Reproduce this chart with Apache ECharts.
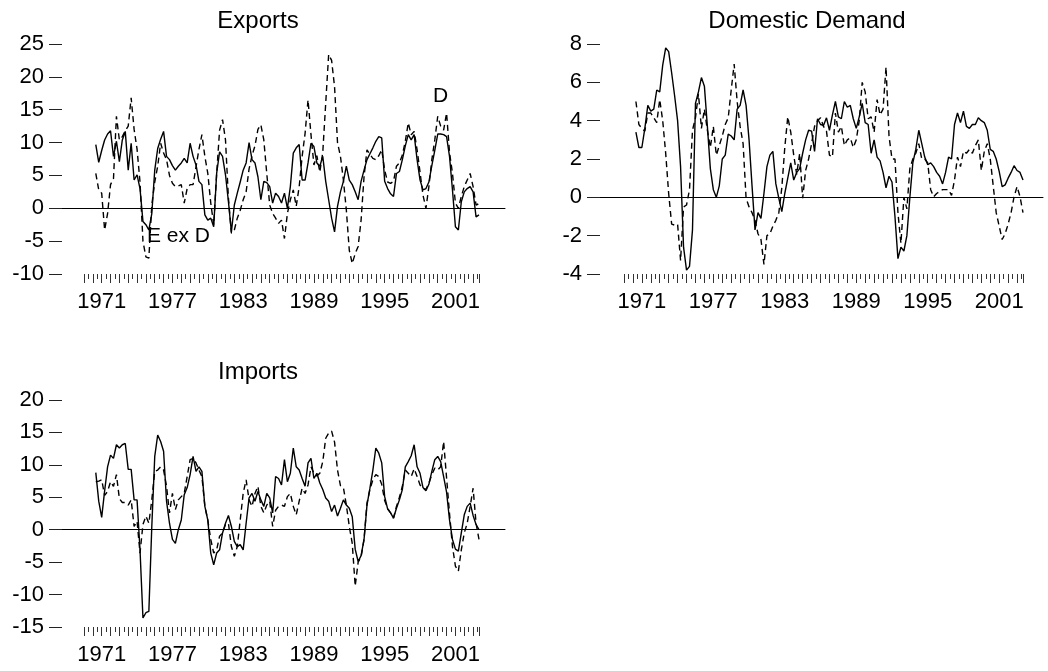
<!DOCTYPE html>
<html>
<head>
<meta charset="utf-8">
<title>Exports, Domestic Demand, Imports</title>
<script src="https://cdn.jsdelivr.net/npm/echarts@6.0.0/dist/echarts.min.js"></script>
<style>
  html, body { margin: 0; padding: 0; background: #fff; }
  #chart { width: 1048px; height: 671px; }
</style>
</head>
<body>
<div id="chart"></div>
<script>
// quarterly sample 1969Q3 .. 2003Q1, first 4 quarters have no growth rate
const FIRST_YEAR = 1969
const FIRST_QUARTER = 3
const N_OBS = 135
const LEADING_NA = 4

const yearLabels = ['1971', '1977', '1983', '1989', '1995', '2001']

const exportsTicks = [-10, -5, 0, 5, 10, 15, 20, 25]
const demandTicks = [-4, -2, 0, 2, 4, 6, 8]
const importsTicks = [-15, -10, -5, 0, 5, 10, 15, 20]

// Exports, solid line
const exportsSolid = [
  9.7, 7.0, 8.8, 10.4, 11.3, 11.8, 7.9, 10.2, 7.1, 10.4,
  11.7, 5.8, 9.9, 4.3, 5.1, 3.0, -2.0, -2.5, -3.3, -0.8,
  5.8, 9.1, 10.5, 11.7, 7.9, 7.4, 6.5, 5.8, 6.4, 6.9,
  7.6, 6.9, 9.9, 7.9, 6.6, 4.1, 3.6, -1.0, -1.8, -1.5,
  -2.8, 5.3, 8.6, 7.9, 5.1, 1.0, -3.6, 0.5, 2.3, 4.0,
  5.8, 6.9, 10.0, 7.4, 6.9, 4.8, 1.3, 4.1, 3.9, 3.3,
  0.8, 2.3, 1.8, 0.8, 2.3, 0.0, 3.3, 8.4, 9.2, 9.7,
  4.3, 4.3, 6.9, 9.9, 9.4, 6.9, 6.4, 7.9, 4.1, 1.3,
  -1.5, -3.6, 0.3, 2.5, 4.1, 6.4, 4.3, 3.6, 2.5, 1.3,
  4.1, 5.8, 7.4, 8.3, 9.2, 10.2, 10.9, 10.7, 4.1, 3.0,
  2.2, 1.8, 5.3, 5.6, 7.4, 9.5, 11.2, 10.4, 11.2, 7.4,
  4.3, 2.8, 3.0, 4.0, 6.5, 8.8, 11.3, 11.3, 11.2, 10.9,
  7.9, 2.8, -2.8, -3.3, 1.0, 2.5, 3.0, 3.3, 2.5, -1.3,
  -1.0
]

// Exports, dashed line
const exportsDashed = [
  5.3, 2.8, 2.3, -3.3, -0.8, 3.6, 4.5, 14.0, 10.4, 10.9,
  11.8, 12.5, 16.8, 12.0, 9.0, 4.0, -5.0, -7.4, -7.6, 0.5,
  4.0, 6.4, 9.9, 8.4, 7.4, 5.0, 3.8, 3.3, 3.4, 3.6,
  0.8, 3.0, 3.6, 3.6, 6.3, 9.0, 11.2, 7.9, 5.3, 0.8,
  -2.5, 5.3, 11.9, 13.5, 10.4, 1.5, -3.8, -3.3, -1.5, -0.3,
  1.3, 2.5, 6.0, 8.0, 9.5, 12.0, 12.7, 10.4, 5.3, 0.5,
  -0.8, -1.5, -2.3, -1.8, -4.6, -0.8, 1.3, 2.8, 0.3, 3.3,
  7.9, 11.4, 16.5, 11.2, 6.6, 8.0, 5.5, 8.5, 16.0, 23.4,
  22.5, 18.5, 10.0, 7.9, 4.3, -0.3, -6.4, -8.4, -6.9, -5.8,
  -1.8, 4.8, 8.9, 8.2, 7.6, 7.4, 8.0, 8.9, 5.8, 4.0,
  3.8, 4.1, 6.4, 6.9, 8.1, 10.2, 13.0, 11.2, 11.7, 8.9,
  5.5, 2.0, 0.0, 3.3, 7.4, 10.4, 14.0, 12.5, 11.9, 14.5,
  8.5, 5.3, 0.8, 0.0, 1.8, 3.3, 4.3, 5.3, 3.3, 0.5,
  0.7
]

// Domestic demand, solid line
const demandSolid = [
  3.4, 2.6, 2.6, 3.6, 4.8, 4.5, 4.6, 5.6, 5.5, 6.9,
  7.8, 7.6, 6.5, 5.3, 4.0, 1.6, -2.6, -3.8, -3.6, -1.7,
  4.9, 5.5, 6.25, 5.8, 3.7, 1.5, 0.4, 0.0, 0.6, 2.0,
  2.2, 3.3, 3.2, 3.0, 4.6, 4.8, 5.6, 4.8, 3.0, 0.6,
  -1.7, -0.8, -1.1, 0.2, 1.6, 2.2, 2.4, 0.7, -0.05, -0.75,
  0.2, 1.0, 1.8, 0.9, 1.3, 1.5, 2.3, 3.0, 3.5, 3.45,
  2.4, 4.1, 3.8, 3.75, 4.15, 3.5, 4.3, 5.0, 4.2, 4.1,
  5.0, 4.7, 4.8, 4.1, 3.6, 4.2, 4.9, 3.9, 3.8, 2.3,
  3.0, 2.1, 1.9, 1.3, 0.5, 1.1, 0.8, -1.0, -3.2, -2.6,
  -2.8, -2.0, 0.0, 1.8, 2.5, 3.5, 2.8, 2.1, 1.7, 1.8,
  1.6, 1.3, 1.1, 0.7, 1.3, 2.1, 2.0, 3.8, 4.4, 3.9,
  4.5, 3.7, 3.6, 3.8, 3.8, 4.15, 4.0, 3.9, 3.5, 2.5,
  2.4, 2.0, 1.35, 0.56, 0.65, 1.0, 1.3, 1.65, 1.4, 1.3,
  0.9
]

// Domestic demand, dashed line
const demandDashed = [
  5.0, 3.8, 3.6, 3.45, 4.4, 4.4, 4.15, 3.9, 5.1, 4.0,
  2.3, 0.2, -1.4, -1.45, -1.4, -3.3, -0.5, -0.4, 0.4, 3.5,
  4.15, 5.4, 3.6, 4.6, 3.5, 2.6, 3.7, 2.2, 2.7, 3.2,
  3.8, 4.15, 5.6, 6.95, 5.0, 3.7, 2.8, -0.05, -0.5, -0.8,
  -1.2, -1.9, -2.2, -3.5, -2.0, -1.9, -1.5, -1.2, -0.8, 0.5,
  2.6, 4.2, 3.4, 2.2, 1.2, 2.3, -0.05, 1.4, 2.0, 2.8,
  3.7, 4.0, 4.15, 3.7, 3.45, 2.2, 2.1, 4.4, 3.4, 3.7,
  2.7, 3.0, 3.1, 2.6, 3.0, 4.0, 6.0, 5.5, 4.1, 4.2,
  3.4, 5.1, 4.3, 4.6, 6.8, 3.2, 2.0, 2.0, -0.8, -2.4,
  0.0, -0.6, 1.5, 2.0, 2.3, 2.8, 2.0, 2.0, 1.8, 0.4,
  0.03, 0.2, 0.3, 0.4, 0.4, 0.4, 0.1, 0.9, 2.1, 1.6,
  2.4, 2.3, 2.5, 2.3, 2.7, 3.0, 1.4, 2.4, 2.8, 2.0,
  0.6, -0.8, -1.5, -2.2, -1.9, -1.4, -0.8, 0.03, 0.56, 0.03,
  -0.8
]

// Imports, solid line
const importsSolid = [
  8.8, 4.4, 1.9, 6.0, 9.7, 11.5, 11.0, 13.1, 12.6, 13.1,
  13.3, 9.3, 9.3, 4.6, 4.6, -3.1, -13.6, -12.8, -12.6, 0.5,
  11.3, 14.6, 13.6, 12.1, 4.4, 1.0, -1.5, -2.1, 0.0, 1.5,
  5.4, 6.5, 8.5, 11.3, 9.0, 9.7, 9.0, 3.6, 1.5, -3.6,
  -5.4, -3.6, -3.1, -0.5, 1.0, 2.2, 0.5, -1.8, -2.6, -2.3,
  -3.1, 1.0, 4.9, 5.6, 4.4, 5.9, 4.6, 3.6, 5.6, 4.9,
  2.6, 8.2, 7.9, 6.9, 10.8, 7.4, 8.7, 12.6, 9.7, 9.2,
  7.9, 6.7, 10.3, 11.0, 7.9, 8.7, 7.2, 6.2, 4.9, 4.4,
  2.8, 3.8, 2.1, 3.3, 4.6, 3.8, 3.3, 2.0, -3.0, -4.9,
  -4.0, -1.5, 3.8, 6.4, 9.2, 12.6, 11.8, 10.3, 5.1, 3.2,
  2.6, 1.8, 3.3, 4.6, 6.2, 9.7, 10.5, 11.4, 13.1, 9.7,
  8.7, 6.5, 6.0, 7.0, 9.0, 10.8, 11.3, 10.5, 8.2, 5.8,
  1.5, -1.5, -3.0, -3.3, -0.5, 2.3, 3.6, 4.1, 2.2, 0.8,
  0.0
]

// Imports, dashed line
const importsDashed = [
  7.4, 7.5, 7.7, 5.3, 5.9, 7.4, 6.7, 8.5, 4.8, 4.2,
  4.2, 3.8, 4.6, 0.5, 1.3, -3.6, 0.8, 2.1, 1.0, 4.6,
  9.0, 9.2, 9.7, 9.2, 6.7, 2.6, 5.6, 3.1, 4.6, 5.1,
  5.6, 8.2, 10.8, 11.0, 10.3, 9.2, 8.2, 3.6, 1.5, -1.5,
  -3.6, -3.1, -1.0, -0.5, 0.8, 1.0, -2.6, -4.1, -2.6, 1.5,
  5.6, 7.7, 4.6, 3.6, 5.6, 6.7, 3.6, 2.6, 3.8, 4.4,
  0.5, 3.0, 3.6, 3.8, 3.6, 5.1, 5.6, 3.6, 2.3, 4.4,
  6.4, 5.6, 6.9, 9.7, 8.7, 8.3, 8.7, 10.5, 14.1, 14.9,
  15.2, 13.5, 9.2, 6.8, 6.5, 3.8, 0.5, -2.1, -8.7, -5.0,
  -4.2, -1.5, 4.1, 6.2, 7.7, 8.5, 8.2, 7.0, 4.5, 3.3,
  2.6, 1.8, 3.6, 5.0, 6.7, 9.2, 8.7, 8.2, 9.4, 8.2,
  6.9, 6.4, 6.2, 7.2, 8.5, 9.5, 9.2, 9.7, 13.6, 8.0,
  2.5, -2.6, -5.6, -6.4, -3.1, -0.5, 1.0, 3.6, 6.4, 1.0,
  -1.5
]

const FONT = '"Liberation Sans", Arial, sans-serif'
const FONT_SIZE = 22
const TITLE_SIZE = 24
const NOTE_SIZE = 21

const quarters = []
for (let k = 0; k < N_OBS; k++) {
  const q = FIRST_QUARTER - 1 + k
  quarters.push((FIRST_YEAR + Math.floor(q / 4)) + 'Q' + ((q % 4) + 1))
}

function withLeadingNA(values) {
  return new Array(LEADING_NA).fill(null).concat(values)
}

const panels = [
  {
    title: 'Exports', titleX: 258, titleY: 21,
    ticks: exportsTicks, solid: exportsSolid, dashed: exportsDashed,
    frame: { left: 62, right: 543, top: 44, height: 230 },
    plot: { left: 84, right: 569 }
  },
  {
    title: 'Domestic Demand', titleX: 807, titleY: 21,
    ticks: demandTicks, solid: demandSolid, dashed: demandDashed,
    frame: { left: 600, right: 5, top: 44, height: 230 },
    plot: { left: 624, right: 25 }
  },
  {
    title: 'Imports', titleX: 258, titleY: 372,
    ticks: importsTicks, solid: importsSolid, dashed: importsDashed,
    frame: { left: 62, right: 543, top: 400, height: 227 },
    plot: { left: 84, right: 569 }
  }
]

const grid = []
const xAxis = []
const yAxis = []
const series = []
const graphic = []

panels.forEach(function (p) {
  const frameGrid = grid.length
  grid.push({ left: p.frame.left, right: p.frame.right, top: p.frame.top, height: p.frame.height })
  const plotGrid = grid.length
  grid.push({ left: p.plot.left, right: p.plot.right, top: p.frame.top, height: p.frame.height })

  const min = p.ticks[0]
  const max = p.ticks[p.ticks.length - 1]
  const interval = p.ticks[1] - p.ticks[0]

  // frame: zero line across full width, y ticks and labels
  xAxis.push({
    gridIndex: frameGrid, type: 'value', min: 0, max: 1, position: 'bottom',
    axisLine: { show: true, onZero: true, lineStyle: { color: '#000', width: 1 } },
    axisTick: { show: false }, axisLabel: { show: false }, splitLine: { show: false }
  })
  yAxis.push({
    gridIndex: frameGrid, type: 'value', min: min, max: max, interval: interval,
    axisLine: { show: false },
    axisTick: { show: true, length: 13, lineStyle: { color: '#222', width: 1 } },
    axisLabel: { margin: 18, color: '#000', fontSize: FONT_SIZE, fontFamily: FONT },
    splitLine: { show: false }
  })

  // plot: quarterly category axis carrying the year labels
  const mainX = xAxis.length
  xAxis.push({
    gridIndex: plotGrid, type: 'category', data: quarters, boundaryGap: false, position: 'bottom',
    axisLine: { show: false, onZero: false },
    axisTick: { show: false },
    axisLabel: {
      margin: 17, color: '#000', fontSize: FONT_SIZE, fontFamily: FONT,
      interval: function (i, v) { return v.slice(4) === 'Q1' && yearLabels.indexOf(v.slice(0, 4)) >= 0 },
      formatter: function (v) { return v.slice(0, 4) }
    },
    splitLine: { show: false }
  })
  // tick ruler under the plot: tall and short ticks alternating
  xAxis.push({
    gridIndex: plotGrid, type: 'value', min: 0, max: N_OBS - 1, interval: 3, position: 'bottom',
    axisLine: { show: false, onZero: false },
    axisTick: { show: true, length: 9, lineStyle: { color: '#333', width: 1 } },
    minorTick: { show: true, splitNumber: 2, length: 5, lineStyle: { color: '#333', width: 1 } },
    axisLabel: { show: false },
    splitLine: { show: false }, minorSplitLine: { show: false }
  })
  const plotY = yAxis.length
  yAxis.push({ gridIndex: plotGrid, type: 'value', min: min, max: max, show: false, splitLine: { show: false } })

  series.push({
    name: p.title + ' solid', type: 'line', xAxisIndex: mainX, yAxisIndex: plotY,
    data: withLeadingNA(p.solid), symbol: 'none', silent: true,
    lineStyle: { color: '#000', width: 1.4 }
  })
  series.push({
    name: p.title + ' dashed', type: 'line', xAxisIndex: mainX, yAxisIndex: plotY,
    data: withLeadingNA(p.dashed), symbol: 'none', silent: true,
    lineStyle: { color: '#000', width: 1.4, type: [6, 4] }
  })

  graphic.push({
    type: 'text', x: p.titleX, y: p.titleY,
    style: {
      text: p.title, fill: '#000', fontSize: TITLE_SIZE, fontFamily: FONT,
      align: 'center', verticalAlign: 'middle', textAlign: 'center', textVerticalAlign: 'middle'
    }
  })
})

// labels written inside the Exports panel
graphic.push({
  type: 'text', x: 147, y: 236,
  style: { text: 'E ex D', fill: '#000', fontSize: NOTE_SIZE, fontFamily: FONT, verticalAlign: 'middle', textVerticalAlign: 'middle' }
})
graphic.push({
  type: 'text', x: 433, y: 96,
  style: { text: 'D', fill: '#000', fontSize: NOTE_SIZE, fontFamily: FONT, verticalAlign: 'middle', textVerticalAlign: 'middle' }
})

const chart = echarts.init(document.getElementById('chart'))
chart.setOption({
  animation: false,
  backgroundColor: '#fff',
  textStyle: { fontFamily: FONT },
  grid: grid,
  xAxis: xAxis,
  yAxis: yAxis,
  series: series,
  graphic: graphic
})
</script>
</body>
</html>
